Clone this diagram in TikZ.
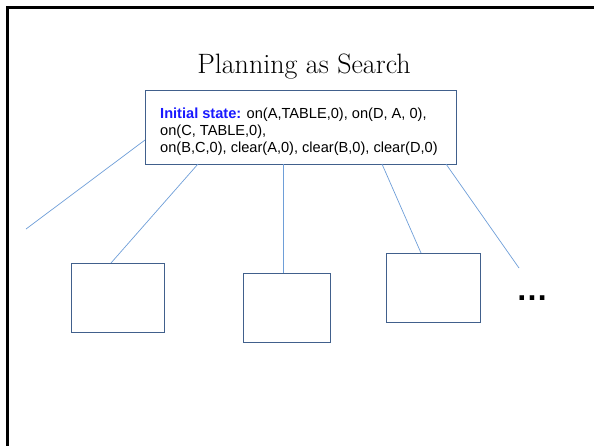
\documentclass[tikz,border=0pt]{standalone}
\usepackage{fontspec}
\setmainfont{Latin Modern Roman}
\newfontfamily\arialfont{Liberation Sans}
\definecolor{boxcol}{HTML}{41608C}
\definecolor{linecol}{HTML}{6E9ED8}
\definecolor{labblue}{HTML}{1A1AFF}
\tikzset{
  childbox/.style={draw=boxcol, line width=1.4pt, fill=white, minimum width=93pt, minimum height=69pt, anchor=north west, inner sep=0pt},
  conn/.style={draw=linecol, line width=0.7pt},
  frame/.style={draw=black, line width=2.6pt},
}
\begin{document}
\begin{tikzpicture}[x=1pt,y=-1pt]
\useasboundingbox (0,0) rectangle (594,445);
\draw[frame] (7.5,7.5) rectangle (610,460);
\node[anchor=base, font=\fontsize{28}{30}\selectfont] (title) at (304,73) {Planning as Search};
\coordinate (s1) at (145,140);
\coordinate (s2) at (198,164);
\coordinate (s3) at (283,164);
\coordinate (s4) at (382,164);
\coordinate (s5) at (446,164);
\coordinate (e1) at (26,229);
\coordinate (e5) at (519,268);
\node[childbox] (b1) at (71,263) {};
\node[childbox, minimum width=87pt] (b2) at (243,273) {};
\node[childbox, minimum width=94pt] (b3) at (386,253) {};
\node[draw=boxcol, line width=1.4pt, fill=white, minimum width=311pt, minimum height=74pt, anchor=north west, inner sep=0pt] (init) at (145,90) {};
\node[anchor=base west, inner sep=0pt, align=left, font=\arialfont\fontsize{14.6}{17}\selectfont] (inittext) at (160,152)
  {\textcolor{labblue}{\textbf{Initial state:}} on(A,TABLE,0), on(D, A, 0),\\ on(C, TABLE,0),\\ on(B,C,0), clear(A,0), clear(B,0), clear(D,0)};
\draw[conn] (s1) -- (e1);
\draw[conn] (s2) -- (b1.north -| 111,0);
\draw[conn] (s3) -- (b2.north -| 283,0);
\draw[conn] (s4) -- (b3.north -| 421,0);
\draw[conn] (s5) -- (e5);
\node[font=\arialfont\bfseries\fontsize{32}{34}\selectfont, anchor=center] (dots) at (532,298) {…};
\end{tikzpicture}
\end{document}
